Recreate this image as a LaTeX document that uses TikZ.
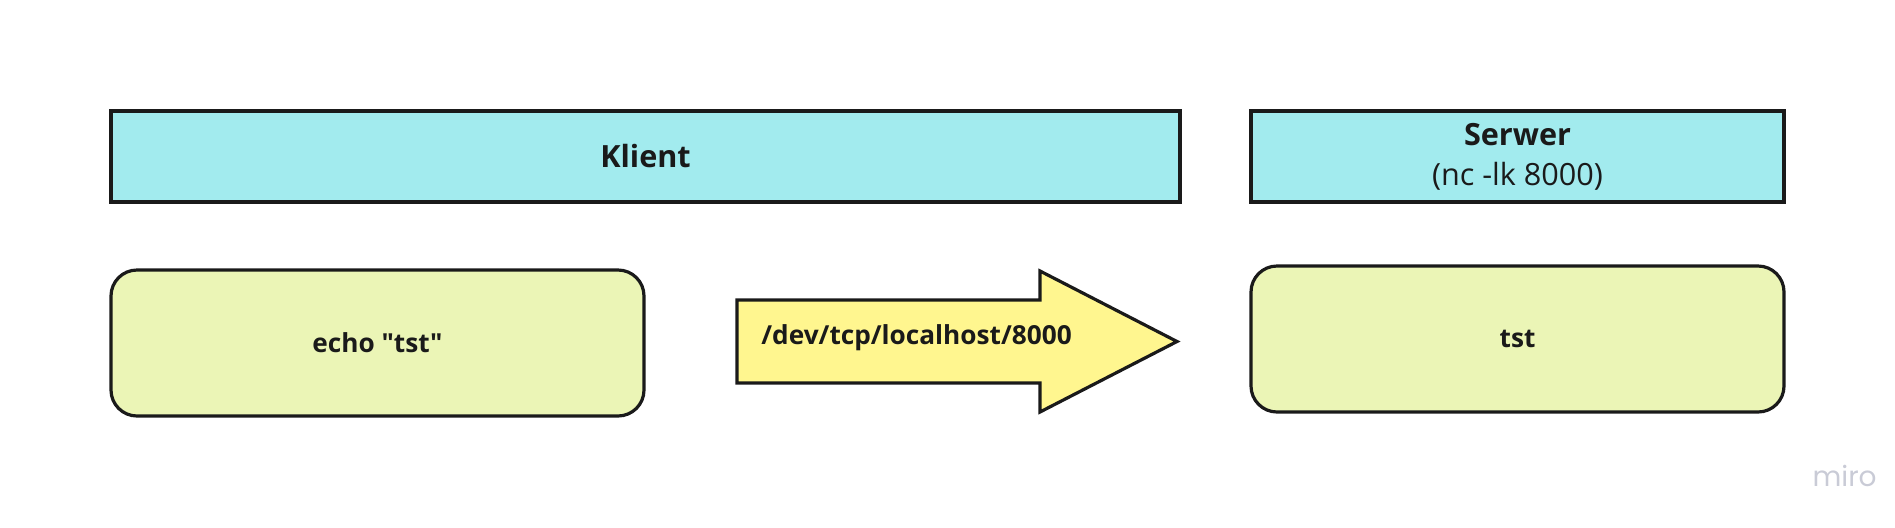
\documentclass[tikz,border=0pt]{standalone}
\usepackage{fontspec}
\setmainfont{Open Sans}[Ligatures=TeXOff]
\newfontfamily\wmfont{Poppins}
\usetikzlibrary{positioning}
\definecolor{hdrcyan}{HTML}{A2EBEE}
\definecolor{boxlime}{HTML}{EBF5B6}
\definecolor{arrowyel}{HTML}{FFF68F}
\definecolor{inkdark}{HTML}{1A1A1A}
\definecolor{wmgray}{HTML}{C9CBD6}

\begin{document}
\begin{tikzpicture}[x=0.5pt,y=-0.5pt,
  header/.style={draw=inkdark,line width=1.6pt,fill=hdrcyan,minimum height=45.5pt,
    inner sep=0pt,text=inkdark,font=\fontsize{15.3}{19}\selectfont,align=center},
  cmdbox/.style={draw=inkdark,line width=1.6pt,fill=boxlime,rounded corners=13pt,
    minimum width=266.5pt,minimum height=73pt,inner sep=0pt,text=inkdark,
    font=\bfseries\fontsize{13.1}{16}\selectfont}]
  \useasboundingbox (0,0) rectangle (1895,527);
  % headers
  \node[header,minimum width=534.5pt] (klient) at (645.5,156.5) {\textbf{Klient}};
  \node[header,minimum width=266.5pt] (serwer) at (1517.5,156.5)
    {\textbf{Serwer}\\[1pt](nc -lk 8000)};
  % boxes
  \node[cmdbox] (echo) at (377.5,343) {echo "tst"};
  \node[cmdbox] (tst) at (1517.5,339) {tst};
  % arrow
  \coordinate (tail) at (737,341.5);
  \coordinate (tip) at (1177,341.5);
  \draw[draw=inkdark,line width=1.6pt,fill=arrowyel,line join=miter]
    (tail |- 0,300) -- (1040,300) -- (1040,271) -- (tip) -- (1040,412)
    -- (1040,383) -- (tail |- 0,383) -- cycle;
  \node[anchor=west,inner sep=0pt,text=inkdark,font=\bfseries\fontsize{13.1}{16}\selectfont]
    (path) at (761,338) {/dev/tcp/localhost/8000};
  % watermark
  \node[text=wmgray,font=\wmfont\fontsize{14}{16}\selectfont,anchor=east,inner sep=0pt]
    (miro) at (1877,476) {miro};
\end{tikzpicture}
\end{document}
